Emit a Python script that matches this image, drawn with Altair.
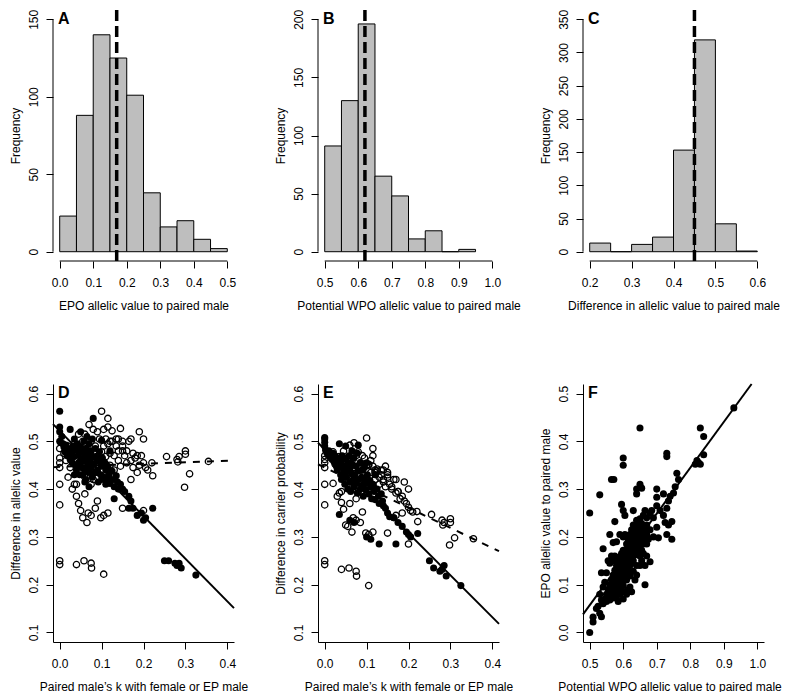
import altair as alt
import pandas as pd

FONT = "Liberation Sans"

# ---------------- Histogram data ----------------
A_edges = [0.0, 0.05, 0.10, 0.15, 0.20, 0.25, 0.30, 0.35, 0.40, 0.45, 0.50]
A_counts = [23, 88, 140, 125, 101, 38, 16, 20, 8, 2]
A_mean = 0.17

B_edges = [0.50, 0.55, 0.60, 0.65, 0.70, 0.75, 0.80, 0.85, 0.90, 0.95]
B_counts = [91, 130, 196, 65, 48, 11, 18, 0, 2]
B_mean = 0.62

C_edges = [0.20, 0.25, 0.30, 0.35, 0.40, 0.45, 0.50, 0.55, 0.60]
C_counts = [13, 0, 11, 22, 153, 319, 42, 1]
C_mean = 0.45

# ---------------- Scatter data D / E (k, diff allelic value, diff carrier prob) ----------------
filled_pts = [
    (0.000, 0.563, 0.508), (0.000, 0.530, 0.505), (0.000, 0.520, 0.498), (0.000, 0.500, 0.490),
    (0.002, 0.498, 0.482), (0.005, 0.510, 0.476), (0.008, 0.495, 0.472), (0.010, 0.488, 0.480),
    (0.012, 0.478, 0.470), (0.015, 0.492, 0.468), (0.018, 0.470, 0.462), (0.020, 0.485, 0.475),
    (0.022, 0.475, 0.458), (0.025, 0.525, 0.470), (0.025, 0.462, 0.455), (0.028, 0.480, 0.448),
    (0.030, 0.470, 0.465), (0.030, 0.455, 0.440), (0.032, 0.490, 0.452), (0.035, 0.505, 0.495),
    (0.035, 0.468, 0.445), (0.038, 0.450, 0.430), (0.040, 0.482, 0.460), (0.040, 0.440, 0.420),
    (0.042, 0.495, 0.470), (0.045, 0.472, 0.448), (0.045, 0.455, 0.435), (0.048, 0.430, 0.410),
    (0.050, 0.520, 0.490), (0.050, 0.488, 0.462), (0.050, 0.462, 0.442), (0.052, 0.445, 0.425),
    (0.055, 0.478, 0.452), (0.055, 0.430, 0.400), (0.058, 0.500, 0.470), (0.058, 0.458, 0.438),
    (0.060, 0.470, 0.445), (0.060, 0.440, 0.415), (0.062, 0.485, 0.455), (0.062, 0.420, 0.395),
    (0.065, 0.510, 0.480), (0.065, 0.465, 0.432), (0.068, 0.450, 0.420), (0.068, 0.475, 0.450),
    (0.070, 0.435, 0.405), (0.070, 0.495, 0.465), (0.072, 0.460, 0.430), (0.075, 0.480, 0.448),
    (0.075, 0.445, 0.412), (0.078, 0.425, 0.392), (0.078, 0.505, 0.475), (0.080, 0.548, 0.492),
    (0.080, 0.468, 0.438), (0.082, 0.452, 0.420), (0.085, 0.485, 0.455), (0.085, 0.435, 0.400),
    (0.088, 0.462, 0.425), (0.090, 0.470, 0.440), (0.090, 0.440, 0.408), (0.092, 0.415, 0.385),
    (0.095, 0.458, 0.420), (0.095, 0.478, 0.445), (0.098, 0.430, 0.398), (0.100, 0.502, 0.455),
    (0.100, 0.448, 0.412), (0.102, 0.465, 0.430), (0.105, 0.425, 0.390), (0.108, 0.455, 0.418),
    (0.110, 0.440, 0.405), (0.112, 0.420, 0.380), (0.115, 0.448, 0.410), (0.118, 0.430, 0.395),
    (0.120, 0.480, 0.430), (0.120, 0.412, 0.378), (0.125, 0.438, 0.400), (0.128, 0.420, 0.385),
    (0.130, 0.405, 0.370), (0.135, 0.428, 0.390), (0.138, 0.415, 0.375), (0.140, 0.400, 0.365),
    (0.145, 0.410, 0.360), (0.150, 0.400, 0.350), (0.155, 0.395, 0.342),
    (0.035, 0.430, 0.347), (0.060, 0.415, 0.335), (0.070, 0.405, 0.330), (0.100, 0.420, 0.300),
    (0.110, 0.410, 0.295), (0.130, 0.380, 0.285), (0.165, 0.385, 0.340), (0.170, 0.375, 0.285),
    (0.165, 0.360, 0.340), (0.175, 0.360, 0.330), (0.185, 0.345, 0.322), (0.195, 0.350, 0.310),
    (0.200, 0.335, 0.305), (0.205, 0.340, 0.300), (0.222, 0.360, 0.307), (0.250, 0.250, 0.250),
    (0.260, 0.250, 0.235), (0.275, 0.245, 0.228), (0.280, 0.240, 0.232), (0.285, 0.245, 0.240),
    (0.290, 0.235, 0.218), (0.325, 0.220, 0.198),
]

open_pts = [
    (0.000, 0.250, 0.250), (0.000, 0.242, 0.242), (0.040, 0.242, 0.232), (0.058, 0.250, 0.235),
    (0.075, 0.245, 0.228), (0.076, 0.235, 0.218), (0.105, 0.222, 0.198), (0.000, 0.410, 0.410),
    (0.000, 0.367, 0.367), (0.000, 0.445, 0.445), (0.000, 0.455, 0.455), (0.000, 0.465, 0.462),
    (0.000, 0.485, 0.470),
    (0.100, 0.563, 0.507), (0.115, 0.548, 0.485), (0.115, 0.530, 0.470), (0.070, 0.535, 0.497),
    (0.080, 0.525, 0.478), (0.060, 0.515, 0.492), (0.090, 0.520, 0.470), (0.145, 0.527, 0.448),
    (0.190, 0.520, 0.415), (0.200, 0.505, 0.400), (0.170, 0.505, 0.420), (0.135, 0.505, 0.440),
    (0.150, 0.500, 0.430), (0.160, 0.480, 0.405), (0.175, 0.475, 0.395), (0.185, 0.470, 0.385),
    (0.200, 0.455, 0.362), (0.205, 0.445, 0.355), (0.220, 0.455, 0.353), (0.222, 0.428, 0.332),
    (0.185, 0.435, 0.350), (0.170, 0.420, 0.345), (0.150, 0.360, 0.308), (0.200, 0.355, 0.285),
    (0.255, 0.468, 0.347), (0.280, 0.462, 0.335), (0.285, 0.468, 0.330), (0.300, 0.480, 0.338),
    (0.300, 0.473, 0.330), (0.282, 0.457, 0.325), (0.298, 0.404, 0.283), (0.310, 0.432, 0.298),
    (0.355, 0.458, 0.296),
    (0.050, 0.355, 0.325), (0.055, 0.340, 0.322), (0.065, 0.330, 0.310), (0.068, 0.350, 0.340),
    (0.075, 0.345, 0.335), (0.098, 0.340, 0.308), (0.105, 0.345, 0.305), (0.115, 0.350, 0.310),
    (0.085, 0.360, 0.330), (0.040, 0.385, 0.372), (0.045, 0.370, 0.358), (0.040, 0.410, 0.395),
    (0.035, 0.410, 0.392), (0.060, 0.390, 0.370), (0.075, 0.410, 0.380), (0.090, 0.375, 0.352),
    (0.020, 0.425, 0.412), (0.030, 0.400, 0.385),
    (0.010, 0.475, 0.470), (0.015, 0.460, 0.465), (0.020, 0.490, 0.478), (0.025, 0.445, 0.452),
    (0.030, 0.480, 0.460), (0.035, 0.495, 0.468), (0.040, 0.460, 0.440), (0.045, 0.515, 0.480),
    (0.050, 0.475, 0.455), (0.050, 0.440, 0.425), (0.055, 0.500, 0.465), (0.060, 0.455, 0.438),
    (0.060, 0.425, 0.400), (0.065, 0.485, 0.460), (0.070, 0.470, 0.445), (0.070, 0.440, 0.415),
    (0.075, 0.500, 0.470), (0.080, 0.455, 0.430), (0.080, 0.420, 0.395), (0.085, 0.490, 0.455),
    (0.090, 0.465, 0.440), (0.090, 0.435, 0.405), (0.095, 0.505, 0.465), (0.100, 0.478, 0.450),
    (0.100, 0.450, 0.425), (0.105, 0.490, 0.452), (0.110, 0.468, 0.435), (0.110, 0.425, 0.400),
    (0.115, 0.495, 0.448), (0.120, 0.475, 0.440), (0.120, 0.450, 0.420), (0.125, 0.500, 0.438),
    (0.130, 0.470, 0.425), (0.130, 0.440, 0.410), (0.135, 0.490, 0.430), (0.140, 0.460, 0.420),
    (0.140, 0.480, 0.415), (0.145, 0.448, 0.405), (0.150, 0.490, 0.425), (0.155, 0.470, 0.410),
    (0.160, 0.455, 0.400), (0.165, 0.500, 0.420), (0.170, 0.460, 0.392), (0.175, 0.445, 0.395),
    (0.180, 0.465, 0.380), (0.190, 0.450, 0.375), (0.195, 0.470, 0.370), (0.210, 0.440, 0.352),
    (0.120, 0.500, 0.435), (0.105, 0.525, 0.450), (0.125, 0.522, 0.442), (0.150, 0.480, 0.435),
    (0.110, 0.505, 0.460), (0.140, 0.505, 0.440),
]

# fitted lines (endpoints at plot-region edges)
line_k = [-0.016, 0.416]
D_solid = [0.536, 0.151]
D_dashed = [0.446, 0.460]
E_solid = [0.497, 0.118]
E_dashed = [0.452, 0.270]

# ---------------- Scatter data F (WPO, EPO) ----------------
F_pts = [
    (0.500, 0.000), (0.500, 0.250), (0.530, 0.288), (0.565, 0.320), (0.572, 0.320), (0.600, 0.365),
    (0.600, 0.350), (0.650, 0.428), (0.640, 0.300), (0.650, 0.310), (0.655, 0.302), (0.640, 0.290),
    (0.730, 0.375), (0.730, 0.368), (0.665, 0.100), (0.600, 0.070), (0.510, 0.032), (0.510, 0.022),
    (0.520, 0.050), (0.530, 0.040), (0.535, 0.033), (0.540, 0.175), (0.560, 0.205), (0.575, 0.232),
    (0.595, 0.268), (0.600, 0.255), (0.605, 0.245), (0.630, 0.255),
    (0.930, 0.470), (0.830, 0.428), (0.840, 0.410), (0.840, 0.372), (0.820, 0.360), (0.815, 0.352),
    (0.830, 0.352), (0.825, 0.355), (0.760, 0.333), (0.765, 0.320), (0.755, 0.305), (0.750, 0.292),
    (0.740, 0.285), (0.745, 0.232), (0.745, 0.195), (0.735, 0.225), (0.730, 0.205), (0.720, 0.245),
    (0.720, 0.290), (0.700, 0.300), (0.700, 0.283), (0.700, 0.265), (0.710, 0.255), (0.690, 0.240),
    (0.685, 0.255), (0.680, 0.250), (0.670, 0.240), (0.665, 0.255), (0.660, 0.245), (0.700, 0.220),
    (0.705, 0.198), (0.690, 0.200), (0.680, 0.215), (0.675, 0.195), (0.670, 0.205), (0.680, 0.148),
    (0.670, 0.160), (0.665, 0.140), (0.730, 0.260), (0.735, 0.275), (0.725, 0.230),
    (0.540, 0.060), (0.545, 0.070), (0.550, 0.080), (0.550, 0.065), (0.555, 0.090), (0.555, 0.075),
    (0.560, 0.100), (0.560, 0.085), (0.560, 0.068), (0.565, 0.110), (0.565, 0.095), (0.565, 0.078),
    (0.570, 0.120), (0.570, 0.105), (0.570, 0.088), (0.570, 0.072), (0.575, 0.130), (0.575, 0.115),
    (0.575, 0.098), (0.575, 0.082), (0.580, 0.140), (0.580, 0.125), (0.580, 0.108), (0.580, 0.092),
    (0.580, 0.075), (0.585, 0.150), (0.585, 0.135), (0.585, 0.118), (0.585, 0.100), (0.585, 0.085),
    (0.590, 0.158), (0.590, 0.142), (0.590, 0.128), (0.590, 0.112), (0.590, 0.095), (0.595, 0.165),
    (0.595, 0.150), (0.595, 0.135), (0.595, 0.120), (0.595, 0.105), (0.595, 0.088), (0.600, 0.200),
    (0.600, 0.172), (0.600, 0.158), (0.600, 0.142), (0.600, 0.128), (0.600, 0.112), (0.600, 0.098),
    (0.605, 0.205), (0.605, 0.165), (0.605, 0.150), (0.605, 0.135), (0.605, 0.120), (0.605, 0.085),
    (0.610, 0.185), (0.610, 0.170), (0.610, 0.155), (0.610, 0.140), (0.610, 0.125), (0.610, 0.110),
    (0.615, 0.195), (0.615, 0.178), (0.615, 0.162), (0.615, 0.148), (0.615, 0.132), (0.615, 0.090),
    (0.620, 0.205), (0.620, 0.188), (0.620, 0.170), (0.620, 0.155), (0.620, 0.140), (0.620, 0.118),
    (0.625, 0.215), (0.625, 0.195), (0.625, 0.178), (0.625, 0.160), (0.625, 0.145), (0.630, 0.225),
    (0.630, 0.205), (0.630, 0.188), (0.630, 0.170), (0.630, 0.150), (0.630, 0.128), (0.635, 0.210),
    (0.635, 0.195), (0.635, 0.178), (0.635, 0.162), (0.640, 0.235), (0.640, 0.218), (0.640, 0.200),
    (0.640, 0.182), (0.640, 0.165), (0.640, 0.140), (0.645, 0.225), (0.645, 0.205), (0.645, 0.188),
    (0.645, 0.170), (0.650, 0.238), (0.650, 0.220), (0.650, 0.200), (0.650, 0.180), (0.650, 0.160),
    (0.655, 0.228), (0.655, 0.210), (0.655, 0.190), (0.655, 0.172), (0.660, 0.220), (0.660, 0.200),
    (0.660, 0.185), (0.660, 0.165), (0.665, 0.210), (0.665, 0.190), (0.670, 0.225), (0.670, 0.185),
    (0.675, 0.215), (0.550, 0.125), (0.545, 0.105), (0.535, 0.125), (0.540, 0.095), (0.530, 0.080),
    (0.525, 0.055), (0.535, 0.068), (0.555, 0.150), (0.565, 0.160), (0.560, 0.145), (0.570, 0.150),
    (0.575, 0.160), (0.590, 0.080), (0.610, 0.080), (0.620, 0.095), (0.625, 0.085), (0.635, 0.110),
    (0.640, 0.120), (0.650, 0.140), (0.655, 0.150), (0.585, 0.065), (0.580, 0.190), (0.570, 0.188),
    (0.590, 0.205),
]
F_line_x = [0.48, 0.983]
F_line_y = [0.038, 0.520]

W = 181
H_TOP, H_BOT = 251, 258
TICK = 7


def axis_x(values, title, domain, title_shift=0):
    extra = {"titleX": W / 2 + title_shift} if title_shift else {}
    return alt.Axis(values=values, format=".1f", title=title, domain=domain, grid=False,
                    tickSize=TICK, labelPadding=9, titlePadding=12, labelAngle=0,
                    labelFlush=False, labelOverlap=False, **extra)


def axis_y(values, title, domain, fmt):
    return alt.Axis(values=values, format=fmt, title=title, domain=domain, grid=False,
                    tickSize=TICK, labelPadding=6, titlePadding=5, labelAngle=270,
                    labelAlign="center", labelBaseline="bottom", labelFlush=False,
                    labelOverlap=False)


def letter_layer(letter):
    return alt.Chart(pd.DataFrame({"t": [letter]})).mark_text(
        font=FONT, fontSize=16, fontWeight="bold", align="left", baseline="alphabetic",
        color="black").encode(text="t:N", x=alt.value(5), y=alt.value(14))


def hist_panel(edges, counts, mean, xdom, xticks, ydom, yticks, xtitle, letter):
    H = H_TOP
    df = pd.DataFrame({"lo": edges[:-1], "hi": edges[1:], "n": counts, "base": [0] * len(counts)})
    xs = alt.Scale(domain=xdom, nice=False, zero=False)
    ys = alt.Scale(domain=ydom, nice=False, zero=False)
    X = lambda f: alt.X(f, scale=xs, axis=axis_x(xticks, xtitle, False))
    Y = lambda f: alt.Y(f, scale=ys, axis=axis_y(yticks, "Frequency", False, "d"))
    bars = alt.Chart(df).mark_rect(fill="#BEBEBE", stroke="black", strokeWidth=1).encode(
        x=X("lo:Q"), x2="hi:Q", y=Y("base:Q"), y2="n:Q")
    xline = alt.Chart(pd.DataFrame({"a": [xticks[0]], "b": [xticks[-1]]})).mark_rule(
        color="black", strokeWidth=1).encode(x=X("a:Q"), x2="b:Q", y=alt.value(H))
    yline = alt.Chart(pd.DataFrame({"a": [yticks[0]], "b": [yticks[-1]]})).mark_rule(
        color="black", strokeWidth=1).encode(x=alt.value(0), y=Y("a:Q"), y2="b:Q")
    vline = alt.Chart(pd.DataFrame({"v": [mean]})).mark_rule(
        color="black", strokeWidth=3.5, strokeDash=[11, 5]).encode(
        x=X("v:Q"), y=alt.value(0), y2=alt.value(H))
    return alt.layer(bars, vline, xline, yline, letter_layer(letter)).properties(width=W, height=H)


def scatter_panel(filled, opn, lines, xdom, xticks, ydom, yticks, xtitle, ytitle, letter,
                  title_shift=0):
    xs = alt.Scale(domain=xdom, nice=False, zero=False)
    ys = alt.Scale(domain=ydom, nice=False, zero=False)
    X = lambda f: alt.X(f, scale=xs, axis=axis_x(xticks, xtitle, True, title_shift))
    Y = lambda f: alt.Y(f, scale=ys, axis=axis_y(yticks, ytitle, True, ".1f"))
    layers = []
    layers.append(alt.Chart(filled).mark_circle(size=50, color="black", opacity=1).encode(
        x=X("x:Q"), y=Y("y:Q")))
    if opn is not None:
        layers.append(alt.Chart(opn).mark_point(shape="circle", filled=False, size=40,
                                                stroke="black", strokeWidth=1.3, opacity=1).encode(
            x=X("x:Q"), y=Y("y:Q")))
    for ldf, dash in lines:
        mk = alt.Chart(ldf).mark_line(color="black", strokeWidth=2,
                                       **({"strokeDash": dash} if dash else {}))
        layers.append(mk.encode(x=X("x:Q"), y=Y("y:Q")))
    layers.append(letter_layer(letter))
    return alt.layer(*layers).properties(width=W, height=H_BOT)


pA = hist_panel(A_edges, A_counts, A_mean, [-0.02, 0.52], [0, 0.1, 0.2, 0.3, 0.4, 0.5],
                [-6, 156], [0, 50, 100, 150], "EPO allelic value to paired male", "A")
pB = hist_panel(B_edges, B_counts, B_mean, [0.48, 1.02], [0.5, 0.6, 0.7, 0.8, 0.9, 1.0],
                [-8, 208], [0, 50, 100, 150, 200], "Potential WPO allelic value to paired male", "B")
pC = hist_panel(C_edges, C_counts, C_mean, [0.184, 0.616], [0.2, 0.3, 0.4, 0.5, 0.6],
                [-14, 364], [0, 50, 100, 150, 200, 250, 300, 350],
                "Difference in allelic value to paired male", "C")

fD = pd.DataFrame({"x": [p[0] for p in filled_pts], "y": [p[1] for p in filled_pts]})
oD = pd.DataFrame({"x": [p[0] for p in open_pts], "y": [p[1] for p in open_pts]})
fE = pd.DataFrame({"x": [p[0] for p in filled_pts], "y": [p[2] for p in filled_pts]})
oE = pd.DataFrame({"x": [p[0] for p in open_pts], "y": [p[2] for p in open_pts]})
fF = pd.DataFrame({"x": [p[0] for p in F_pts], "y": [p[1] for p in F_pts]})

kticks = [0, 0.1, 0.2, 0.3, 0.4]
yt16 = [0.1, 0.2, 0.3, 0.4, 0.5, 0.6]
ktitle = "Paired male\u2019s k with female or EP male"

pD = scatter_panel(fD, oD,
                   [(pd.DataFrame({"x": line_k, "y": D_solid}), None),
                    (pd.DataFrame({"x": line_k, "y": D_dashed}), [7, 7])],
                   [-0.016, 0.416], kticks, [0.08, 0.62], yt16, ktitle,
                   "Difference in allelic value", "D")
pE = scatter_panel(fE, oE,
                   [(pd.DataFrame({"x": line_k, "y": E_solid}), None),
                    (pd.DataFrame({"x": line_k, "y": E_dashed}), [7, 7])],
                   [-0.016, 0.416], kticks, [0.08, 0.62], yt16, ktitle,
                   "Difference in carrier probability", "E")
pF = scatter_panel(fF, None,
                   [(pd.DataFrame({"x": F_line_x, "y": F_line_y}), None)],
                   [0.48, 1.02], [0.5, 0.6, 0.7, 0.8, 0.9, 1.0], [-0.02, 0.52],
                   [0.0, 0.1, 0.2, 0.3, 0.4, 0.5], "Potential WPO allelic value to paired male",
                   "EPO allelic value to paired male", "F", title_shift=-4)

chart = alt.concat(pA, pB, pC, pD, pE, pF, columns=3,
                   spacing={"row": 123, "column": 84}, bounds="flush").properties(
    padding={"left": 0, "top": 0, "right": 0, "bottom": 0}
).configure_view(stroke=None).configure_axis(
    labelFont=FONT, titleFont=FONT, labelFontSize=12, titleFontSize=12,
    labelColor="black", titleColor="black", titleFontWeight="normal",
    domainColor="black", tickColor="black", domainWidth=1, tickWidth=1
)

chart.save("out.html", embed_options={"renderer": "svg", "actions": False})
